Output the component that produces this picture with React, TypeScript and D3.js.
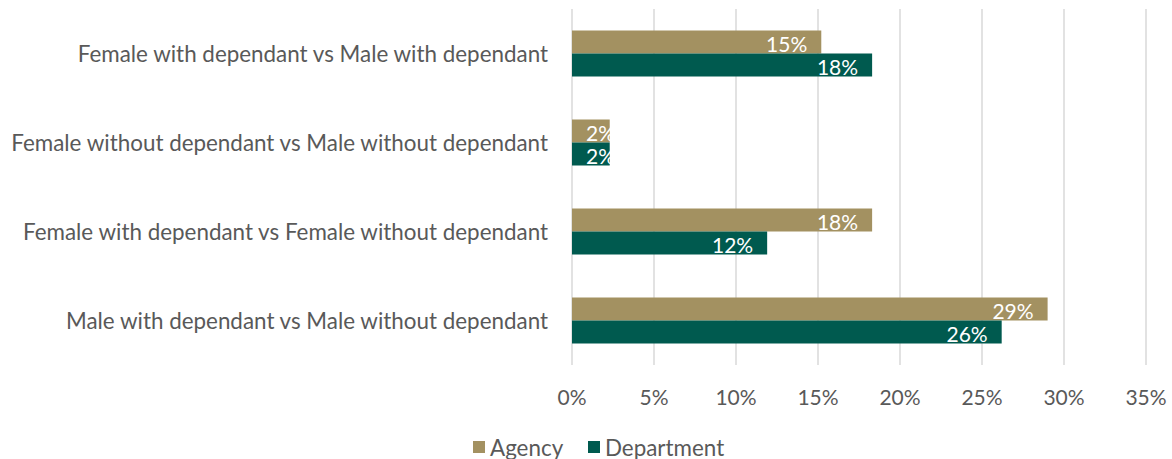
import React from "react";
import * as d3 from "d3";

const categories = [
  "Female with dependant vs Male with dependant",
  "Female without dependant vs Male without dependant",
  "Female with dependant vs Female without dependant",
  "Male with dependant vs Male without dependant",
];
const seriesNames = ["Agency", "Department"];
const agency = [15.2, 2.3, 18.3, 29.0];
const department = [18.3, 2.3, 11.9, 26.2];
const xTicks = [0, 5, 10, 15, 20, 25, 30, 35];
const colors = ["#A39161", "#005A4F"];

const W = 1172;
const H = 459;
const FONT = "Lato, 'Liberation Sans', sans-serif";

export default function App() {
  const x = d3.scaleLinear().domain([0, 35]).range([572, 1146]);
  const y = d3.scaleBand<string>().domain(categories).range([9, 365]).paddingInner(0).paddingOuter(0);
  const barH = 23;
  const series = [agency, department];

  return (
    <svg width={W} height={H} style={{ position: "absolute", left: 0, top: 0, background: "#fff" }}>
      {xTicks.map((t) => (
        <line key={"g" + t} x1={x(t)} x2={x(t)} y1={9} y2={365} stroke="#D9D9D9" strokeWidth={1.5} />
      ))}
      {xTicks.map((t) => (
        <text key={"t" + t} x={x(t)} y={396} textAnchor="middle" dominantBaseline="central" fontFamily={FONT} fontSize={21} fill="#595959">
          {t + "%"}
        </text>
      ))}
      {categories.map((c) => (
        <text key={c} x={548} y={(y(c) as number) + y.bandwidth() / 2} textAnchor="end" dominantBaseline="central" fontFamily={FONT} fontSize={22.4} fill="#595959">
          {c}
        </text>
      ))}
      {categories.map((c, i) => {
        const cy = (y(c) as number) + y.bandwidth() / 2;
        return series.map((s, si) => {
          const top = cy - barH + si * barH;
          const x0 = x(0);
          const x1 = x(s[i]);
          const small = x1 - x0 < 50;
          return (
            <g key={c + si}>
              <rect x={x0} y={top} width={x1 - x0} height={barH} fill={colors[si]} />
              <text
                x={small ? x0 + 14 : x1 - 14}
                y={top + barH / 2 + 1}
                textAnchor={small ? "start" : "end"}
                dominantBaseline="central"
                fontFamily={FONT}
                fontSize={21}
                fill="#FFFFFF"
              >
                {Math.round(s[i]) + "%"}
              </text>
            </g>
          );
        });
      })}
      {seriesNames.map((n, i) => {
        const lx = [473, 588][i];
        return (
          <g key={n}>
            <rect x={lx} y={441} width={12} height={12} fill={colors[i]} />
            <text x={lx + 17} y={447} dominantBaseline="central" fontFamily={FONT} fontSize={22.4} fill="#595959">
              {n}
            </text>
          </g>
        );
      })}
    </svg>
  );
}
